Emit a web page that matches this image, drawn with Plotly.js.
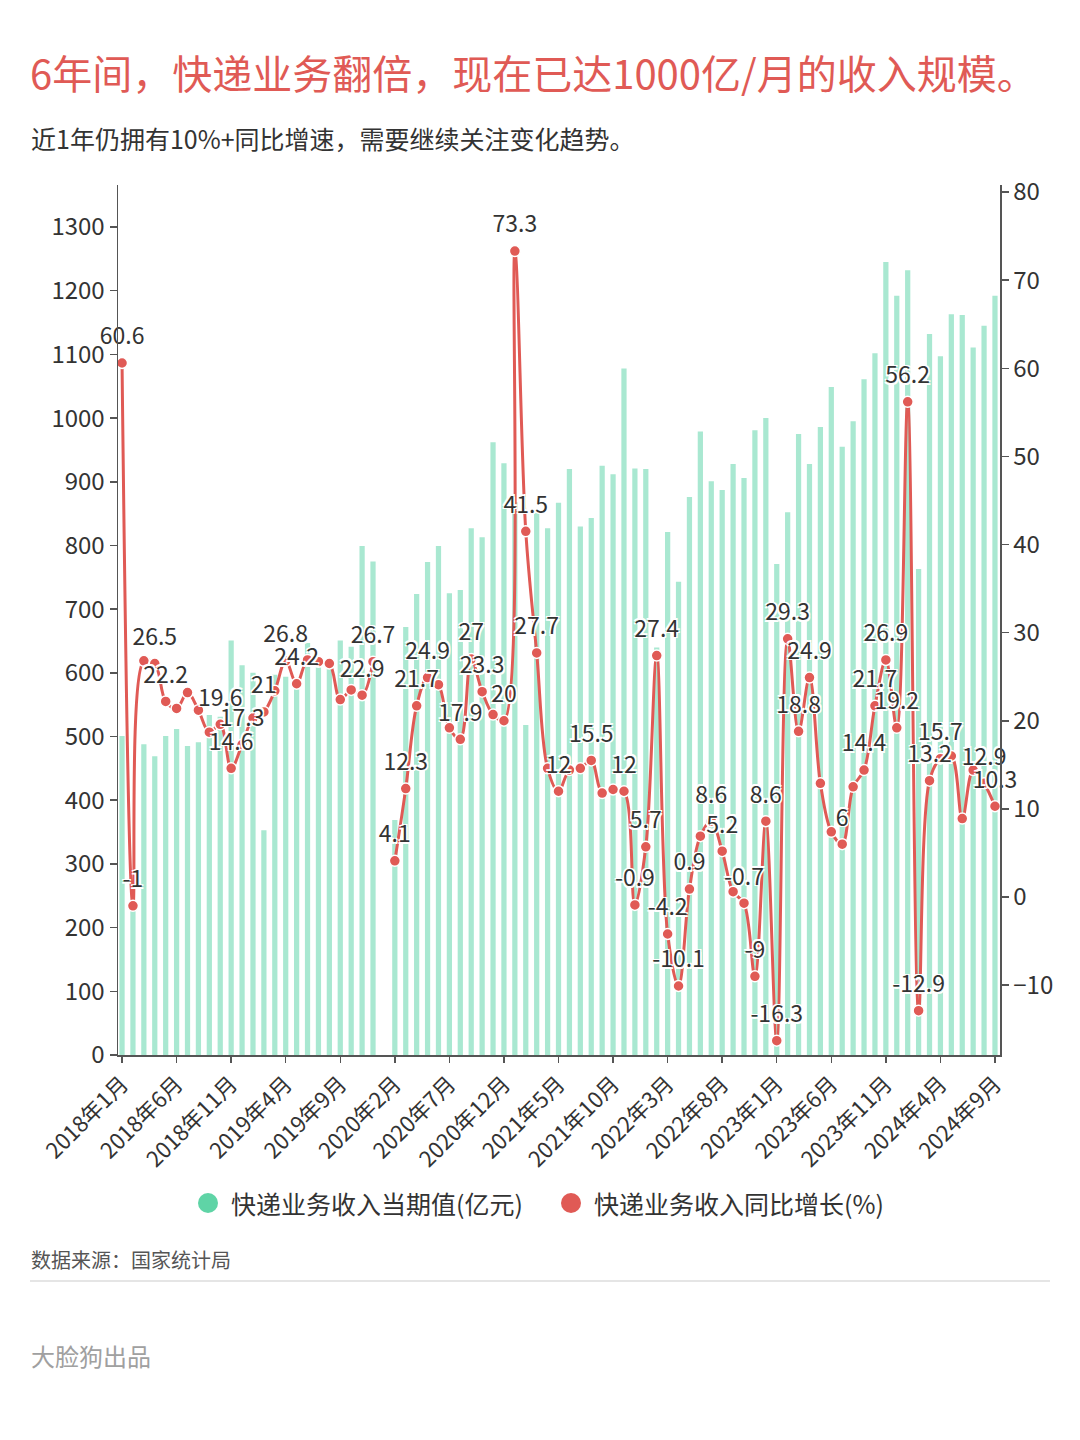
<!DOCTYPE html>
<html>
<head>
<meta charset="utf-8">
<script src="https://cdn.plot.ly/plotly-3.0.1.min.js"></script>
<style>
html,body{margin:0;padding:0;background:#fff;}
#chart{width:1080px;height:1440px;}
</style>
</head>
<body>
<div id="chart"></div>
<script>
const months = [
 "2018年1月","2018年2月","2018年3月","2018年4月","2018年5月","2018年6月","2018年7月","2018年8月","2018年9月","2018年10月","2018年11月","2018年12月",
 "2019年1月","2019年2月","2019年3月","2019年4月","2019年5月","2019年6月","2019年7月","2019年8月","2019年9月","2019年10月","2019年11月","2019年12月",
 "2020年1月","2020年2月","2020年3月","2020年4月","2020年5月","2020年6月","2020年7月","2020年8月","2020年9月","2020年10月","2020年11月","2020年12月",
 "2021年1月","2021年2月","2021年3月","2021年4月","2021年5月","2021年6月","2021年7月","2021年8月","2021年9月","2021年10月","2021年11月","2021年12月",
 "2022年1月","2022年2月","2022年3月","2022年4月","2022年5月","2022年6月","2022年7月","2022年8月","2022年9月","2022年10月","2022年11月","2022年12月",
 "2023年1月","2023年2月","2023年3月","2023年4月","2023年5月","2023年6月","2023年7月","2023年8月","2023年9月","2023年10月","2023年11月","2023年12月",
 "2024年1月","2024年2月","2024年3月","2024年4月","2024年5月","2024年6月","2024年7月","2024年8月","2024年9月"
];

// 快递业务收入当期值(亿元)
const revenue = [
 501, 230, 488, 469, 501, 512, 485, 491, 534, 531, 651, 612,
 600, 353, 597, 594, 586, 647, 609, 609, 651, 641, 799, 775,
 null, 369, 672, 724, 774, 799, 725, 730, 827, 813, 962, 929,
 868, 518, 851, 827, 867, 920, 830, 843, 925, 912, 1078, 921,
 920, 640, 821, 743, 876, 979, 901, 887, 928, 906, 981, 1000,
 771, 852, 975, 928, 986, 1049, 955, 995, 1061, 1102, 1245, 1192,
 1232, 763, 1132, 1097, 1163, 1162, 1111, 1145, 1192
];

// 快递业务收入同比增长(%)
const growth = [
 60.6, -1, 26.8, 26.5, 22.2, 21.4, 23.2, 21.2, 18.7, 19.6, 14.6, 17.3,
 20.3, 21, 23.4, 26.8, 24.2, 26.9, 26.7, 26.5, 22.4, 23.5, 22.9, 26.7,
 null, 4.1, 12.3, 21.7, 24.9, 24.1, 19.2, 17.9, 27, 23.3, 20.7, 20,
 73.3, 41.5, 27.7, 14.6, 12, 14.4, 14.6, 15.5, 11.8, 12.2, 12, -0.9,
 5.7, 27.4, -4.2, -10.1, 0.9, 6.9, 8.6, 5.2, 0.6, -0.7, -9, 8.6,
 -16.3, 29.3, 18.8, 24.9, 12.9, 7.4, 6, 12.5, 14.4, 21.7, 26.9, 19.2,
 56.2, -12.9, 13.2, 15.7, 16, 8.9, 14.4, 12.9, 10.3
];

// which growth labels are visible (others hidden by overlap in the original)
const labelShown = [
 1,1,0,1,1,0,0,0,0,1,1,1,
 0,1,0,1,1,0,0,0,0,0,1,1,
 0,1,1,1,1,0,0,1,1,1,0,1,
 1,1,1,0,1,0,0,1,0,0,1,1,
 1,1,1,1,1,0,1,1,0,1,1,1,
 1,1,1,1,0,0,1,0,1,1,1,1,
 1,1,1,1,0,0,0,1,1
];

const xTickLabels = months.filter((m, i) => i % 5 === 0);
const leftTicks = [0,100,200,300,400,500,600,700,800,900,1000,1100,1200,1300];
const rightTicks = [-10,0,10,20,30,40,50,60,70,80];

const FONT = '"Noto Sans CJK SC", "Noto Sans", sans-serif';
const GREEN_BAR = '#a9e8d1';
const GREEN = '#5fd4a6';
const RED = '#e05a55';

const L = 118, R = 1000, T = 185, B = 1055;
const W = R - L, H = B - T;
const px = x => (x - L) / W;
const py = y => (B - y) / H;

const labelText = growth.map((v, i) => (labelShown[i] && v !== null) ? String(v) : '');

const traces = [
 {
  type: 'bar', x: months, y: revenue, name: '快递业务收入当期值(亿元)',
  marker: {color: GREEN_BAR}, width: 0.48, yaxis: 'y', hoverinfo: 'x+y'
 },
 {
  type: 'scatter', mode: 'lines+markers', x: months, y: growth, yaxis: 'y2',
  name: '快递业务收入同比增长(%)',
  line: {color: RED, width: 3, shape: 'spline', smoothing: 1.0},
  marker: {color: RED, size: 11, line: {color: '#ffffff', width: 1.5}},
  connectgaps: false
 },
 {
  type: 'scatter', mode: 'markers+text', x: months, y: growth, yaxis: 'y2',
  showlegend: false, hoverinfo: 'skip',
  marker: {color: 'rgba(0,0,0,0)', size: 19},
  text: labelText, textposition: 'top center',
  textfont: {family: FONT, size: 23, color: '#333333',
   shadow: '-1.5px -1.5px 0 #fff, 1.5px -1.5px 0 #fff, -1.5px 1.5px 0 #fff, 1.5px 1.5px 0 #fff'},
  cliponaxis: false
 }
];

const layout = {
 width: 1080, height: 1440,
 margin: {l: L, r: 1080 - R, t: T, b: 1440 - B, pad: 0},
 paper_bgcolor: '#ffffff', plot_bgcolor: '#ffffff',
 showlegend: false,
 font: {family: FONT, color: '#333333'},
 bargap: 0.5,
 xaxis: {
  type: 'category', range: [-0.37, 80.46], fixedrange: true,
  tickmode: 'array', tickvals: xTickLabels, ticktext: xTickLabels,
  tickangle: -45, tickfont: {size: 22, color: '#333333'},
  ticks: 'outside', ticklen: 6, tickcolor: '#555555', tickwidth: 1.5,
  showline: true, linecolor: '#555555', linewidth: 1.5,
  showgrid: false, zeroline: false
 },
 yaxis: {
  range: [0, 1366], tickmode: 'array', tickvals: leftTicks,
  tickfont: {size: 24, color: '#333333'},
  ticks: 'outside', ticklen: 7, tickcolor: '#555555', tickwidth: 1.5,
  showline: true, linecolor: '#555555', linewidth: 1.5,
  showgrid: false, zeroline: false
 },
 yaxis2: {
  overlaying: 'y', side: 'right', range: [-17.93, 80.8],
  tickmode: 'array', tickvals: rightTicks,
  tickfont: {size: 24, color: '#333333'},
  ticks: 'outside', ticklen: 7, tickcolor: '#555555', tickwidth: 1.5,
  showline: true, linecolor: '#555555', linewidth: 1.5,
  showgrid: false, zeroline: false
 },
 annotations: [
  {text: '6年间，快递业务翻倍，现在已达1000亿/月的收入规模。', xref: 'paper', yref: 'paper',
   x: px(28), y: py(72), xanchor: 'left', yanchor: 'middle', showarrow: false,
   font: {family: FONT, size: 40, color: '#e05a55'}},
  {text: '近1年仍拥有10%+同比增速，需要继续关注变化趋势。', xref: 'paper', yref: 'paper',
   x: px(29), y: py(138), xanchor: 'left', yanchor: 'middle', showarrow: false,
   font: {family: FONT, size: 25, color: '#333333'}},
  {text: '快递业务收入当期值(亿元)', xref: 'paper', yref: 'paper',
   x: px(229), y: py(1203), xanchor: 'left', yanchor: 'middle', showarrow: false,
   font: {family: FONT, size: 25, color: '#333333'}},
  {text: '快递业务收入同比增长(%)', xref: 'paper', yref: 'paper',
   x: px(592), y: py(1203), xanchor: 'left', yanchor: 'middle', showarrow: false,
   font: {family: FONT, size: 25, color: '#333333'}},
  {text: '数据来源：国家统计局', xref: 'paper', yref: 'paper',
   x: px(29), y: py(1259), xanchor: 'left', yanchor: 'middle', showarrow: false,
   font: {family: FONT, size: 20, color: '#555555'}},
  {text: '大脸狗出品', xref: 'paper', yref: 'paper',
   x: px(29), y: py(1355), xanchor: 'left', yanchor: 'middle', showarrow: false,
   font: {family: FONT, size: 24, color: '#a0a0a0'}}
 ],
 shapes: [
  {type: 'circle', xref: 'paper', yref: 'paper', xsizemode: 'pixel', ysizemode: 'pixel',
   xanchor: px(208), yanchor: py(1203), x0: -10, x1: 10, y0: -10, y1: 10,
   fillcolor: GREEN, line: {width: 0}},
  {type: 'circle', xref: 'paper', yref: 'paper', xsizemode: 'pixel', ysizemode: 'pixel',
   xanchor: px(571), yanchor: py(1203), x0: -10, x1: 10, y0: -10, y1: 10,
   fillcolor: RED, line: {width: 0}},
  {type: 'line', xref: 'paper', yref: 'paper', x0: px(30), x1: px(1050), y0: py(1281), y1: py(1281),
   line: {color: '#dddddd', width: 1.5}}
 ]
};

Plotly.newPlot('chart', traces, layout, {staticPlot: true, displayModeBar: false});
</script>
</body>
</html>
